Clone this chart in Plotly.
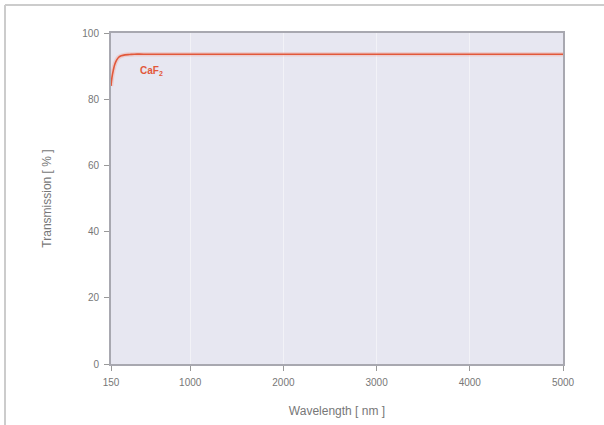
import plotly.graph_objects as go

wavelength = [150, 160, 175, 190, 210, 230, 260, 300, 350, 400, 500, 1000, 2000, 3000, 4000, 5000]
transmission = [84.0, 86.5, 88.8, 90.5, 91.8, 92.6, 93.1, 93.4, 93.5, 93.6, 93.6, 93.6, 93.6, 93.6, 93.6, 93.6]
x_ticks = [150, 1000, 2000, 3000, 4000, 5000]
y_ticks = [0, 20, 40, 60, 80, 100]

fig = go.Figure()
# soft glow under the line
fig.add_trace(go.Scatter(x=wavelength, y=transmission, mode="lines",
                         line=dict(color="rgba(240,160,150,0.35)", width=4.5, shape="spline"),
                         hoverinfo="skip", showlegend=False))
fig.add_trace(go.Scatter(x=wavelength, y=transmission, mode="lines",
                         line=dict(color="#e2583a", width=1.6, shape="spline"),
                         showlegend=False))

fig.add_annotation(x=440, y=88.6, xref="x", yref="y", text="<b>CaF</b><sub><b>2</b></sub>",
                   showarrow=False, xanchor="left", yanchor="middle",
                   font=dict(family="Liberation Sans, Arial", size=10, color="#e2583a"))

axis_common = dict(showline=True, linecolor="#a8a8b0", linewidth=2, mirror=True,
                   ticks="outside", ticklen=5, tickcolor="#999999", tickwidth=1,
                   ticklabelstandoff=3, automargin=False,
                   tickfont=dict(family="Liberation Sans, Arial", size=10, color="#777777"),
                   zeroline=False)

fig.update_xaxes(range=[150, 5000], tickvals=x_ticks, ticktext=[str(v) for v in x_ticks],
                 showgrid=True, gridcolor="#f2f2f7", gridwidth=1,
                 title=dict(text="Wavelength [ nm ]", standoff=20,
                            font=dict(family="Liberation Sans, Arial", size=12, color="#777777")),
                 **axis_common)
fig.update_yaxes(range=[0, 100], tickvals=y_ticks, ticktext=[str(v) for v in y_ticks],
                 showgrid=False,
                 title=dict(text="Transmission [ % ]", standoff=28,
                            font=dict(family="Liberation Sans, Arial", size=12, color="#777777")),
                 **axis_common)

# outer frame (top and left lines)
fig.add_shape(type="line", xref="paper", yref="paper", x0=-0.2345, x1=1.1, y0=1.0846, y1=1.0846,
              line=dict(color="#cccccc", width=2), layer="above")
fig.add_shape(type="line", xref="paper", yref="paper", x0=-0.2345, x1=-0.2345, y0=-0.2, y1=1.0846,
              line=dict(color="#cccccc", width=2), layer="above")

fig.update_layout(width=604, height=425, margin=dict(l=111, r=41, t=33, b=61),
                  plot_bgcolor="#e7e7f1", paper_bgcolor="white", showlegend=False)

fig.write_html("out.html")
